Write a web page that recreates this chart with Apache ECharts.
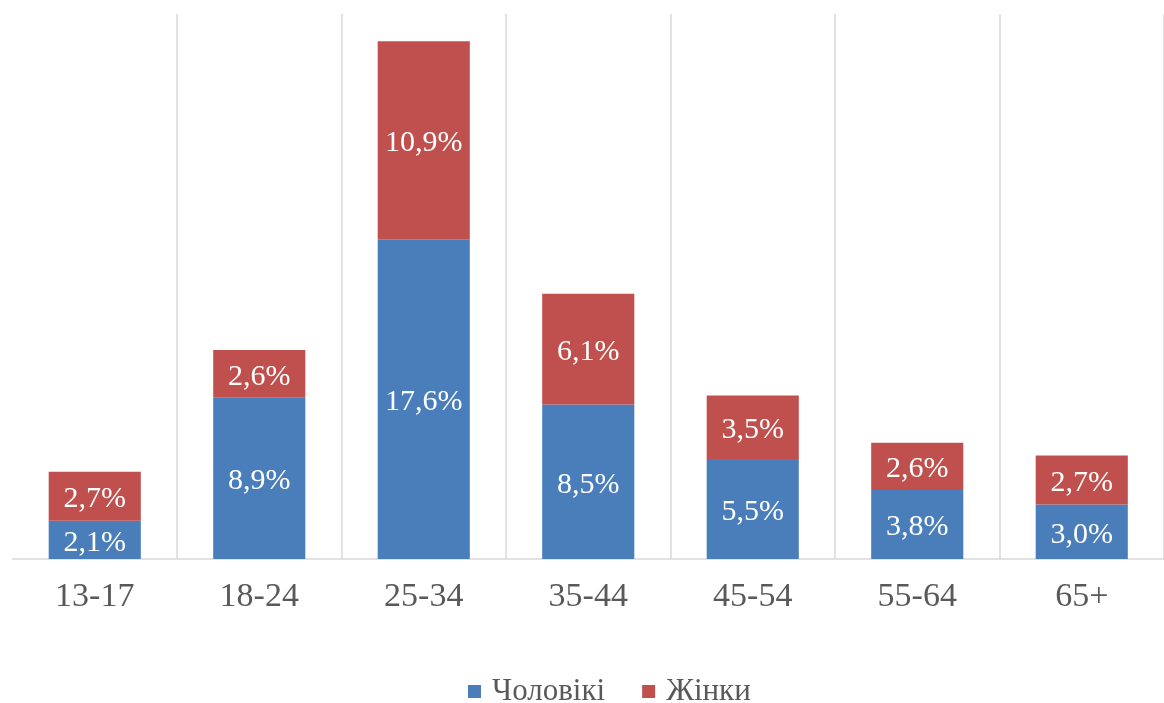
<!DOCTYPE html>
<html>
<head>
<meta charset="utf-8">
<title>Вікова та статева структура аудиторії</title>
<script src="https://cdn.jsdelivr.net/npm/echarts@6/dist/echarts.min.js"></script>
<style>
  html, body { margin: 0; padding: 0; background: #ffffff; }
  #chart { width: 1164px; height: 703px; }
</style>
</head>
<body>
<div id="chart"></div>
<script>
// Age groups along the horizontal axis
const ageGroups = ['13-17', '18-24', '25-34', '35-44', '45-54', '55-64', '65+'];
// Share of audience, %
const menValues = [2.1, 8.9, 17.6, 8.5, 5.5, 3.8, 3.0];
const womenValues = [2.7, 2.6, 10.9, 6.1, 3.5, 2.6, 2.7];
const seriesNames = ['Чоловікі', 'Жінки'];

const FONT = 'Liberation Serif';
const fmtPct = (p) => p.value.toFixed(1).replace('.', ',') + '%';

const chart = echarts.init(document.getElementById('chart'), null, { renderer: 'canvas' });

const barLabel = {
  show: true,
  position: 'inside',
  offset: [0, 3],
  formatter: fmtPct,
  color: '#ffffff',
  fontFamily: FONT,
  fontSize: 30
};

chart.setOption({
  backgroundColor: '#ffffff',
  animation: false,
  grid: { left: 12.5, right: -8, top: 14, bottom: 144, containLabel: false },
  legend: {
    data: seriesNames,
    left: 468,
    top: 676,
    padding: 0,
    icon: 'rect',
    itemWidth: 13,
    itemHeight: 13,
    itemGap: 37,
    textStyle: { fontFamily: FONT, fontSize: 31, lineHeight: 26, color: '#595959', padding: [0, 0, 0, 6] }
  },
  xAxis: {
    type: 'category',
    data: ageGroups,
    axisLine: { show: true, lineStyle: { color: '#d9d9d9', width: 1.5 } },
    axisTick: { show: false },
    splitLine: {
      show: true,
      interval: (i) => i > 0,
      lineStyle: { color: '#d9d9d9', width: 1.5 }
    },
    axisLabel: {
      fontFamily: FONT,
      fontSize: 34,
      color: '#595959',
      margin: 21
    }
  },
  yAxis: {
    type: 'value',
    min: 0,
    max: 30,
    show: false,
    splitLine: { show: false }
  },
  series: [
    {
      name: seriesNames[0],
      type: 'bar',
      stack: 'total',
      barWidth: '56%',
      data: menValues,
      itemStyle: { color: '#4a7ebb' },
      label: barLabel
    },
    {
      name: seriesNames[1],
      type: 'bar',
      stack: 'total',
      barWidth: '56%',
      data: womenValues,
      itemStyle: { color: '#c0504d' },
      label: barLabel
    }
  ]
});
</script>
</body>
</html>
